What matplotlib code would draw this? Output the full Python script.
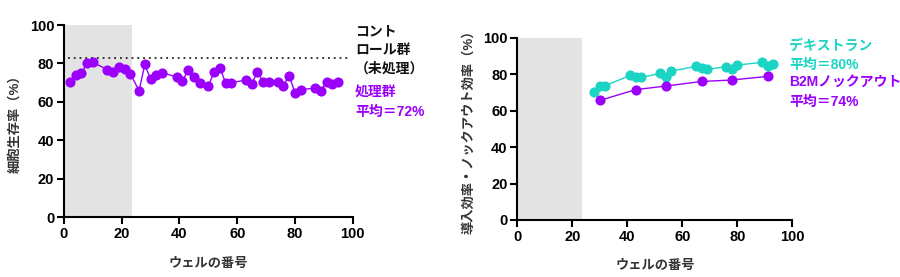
import matplotlib
matplotlib.use("Agg")
import matplotlib.pyplot as plt

plt.rcParams['font.family'] = ['Liberation Sans', 'Noto Sans CJK JP', 'DejaVu Sans']

# Left chart: cell viability per well
viab_wells = [2, 4, 6, 8, 10, 15, 17, 19, 21, 23, 26, 28, 30, 32, 34, 39, 41, 43, 45, 47,
              50, 52, 54, 56, 58, 63, 65, 67, 69, 71, 74, 76, 78, 80, 82, 87, 89, 91, 93, 95]
viab_vals = [70.2, 74.2, 75.0, 80.0, 80.6, 76.8, 75.6, 78.2, 77.3, 74.5, 65.9, 79.5, 71.8, 74.2, 75.2,
             73.0, 70.7, 76.6, 73.0, 70.0, 68.5, 75.4, 77.8, 69.8, 70.0, 71.4, 69.2, 75.6, 70.2, 70.4,
             70.4, 68.5, 73.7, 64.6, 66.4, 67.2, 65.7, 70.5, 69.2, 70.5]
control_level = 83.0

# Right chart: transduction / knockout efficiency
dex_wells = [28, 30, 32, 41, 43, 45, 52, 54, 56, 65, 67, 69, 76, 78, 80, 89, 91, 93]
dex_vals = [70.0, 73.5, 73.7, 79.3, 78.2, 78.2, 80.4, 78.2, 81.7, 84.3, 83.4, 82.6,
            84.1, 82.6, 85.0, 86.5, 84.6, 85.4]
ko_wells = [30, 43, 54, 67, 78, 91]
ko_vals = [65.6, 71.5, 73.5, 76.0, 76.8, 78.8]

ticks = [0, 20, 40, 60, 80, 100]
PURPLE = '#9A00FA'
CYAN = '#1CD4C4'
GRAY_SPAN = '#E3E3E3'

fig = plt.figure(figsize=(9, 2.77), dpi=100)
ax1 = fig.add_axes([0.0711, 0.2155, 0.3208, 0.6942])
ax2 = fig.add_axes([0.5748, 0.2058, 0.3056, 0.6580])

def style(ax, ylabel):
    ax.set_xlim(0, 100)
    ax.set_ylim(0, 100)
    ax.set_xticks(ticks)
    ax.set_yticks(ticks)
    ax.tick_params(direction='out', length=5, width=1.5, labelsize=10.5, pad=2)
    for lab in ax.get_xticklabels() + ax.get_yticklabels():
        lab.set_fontweight('bold')
    for s in ['top', 'right']:
        ax.spines[s].set_visible(False)
    for s in ['left', 'bottom']:
        ax.spines[s].set_linewidth(1.5)
    ax.axvspan(0, 23.5, color=GRAY_SPAN, lw=0, zorder=0)
    ax.set_xlabel('ウェルの番号', fontsize=9.5, fontweight='bold', color='#333333', labelpad=12)
    ax.set_ylabel(ylabel, fontsize=9.5, fontweight='bold', color='#333333', labelpad=6)

style(ax1, '細胞生存率（%）')
style(ax2, '導入効率・ノックアウト効率（%）')

ax1.plot([1.5, 98.5], [control_level, control_level], color='#222222', ls=(0, (1, 2.2)), lw=1.3)
ax1.plot(viab_wells, viab_vals, color=PURPLE, lw=1, marker='o', ms=7.3, mew=0, zorder=3, clip_on=False)

ax2.plot(dex_wells, dex_vals, color=CYAN, lw=1, marker='o', ms=7.3, mew=0, zorder=3)
ax2.plot(ko_wells, ko_vals, color=PURPLE, lw=1, marker='o', ms=7.3, mew=0, zorder=3)

tkw = dict(fontsize=10, fontweight='bold', ha='left', va='top', linespacing=1.45)
fig.text(355/900, 1 - 24/277, 'コント\nロール群\n（未処理）', color='#111111', **tkw)
fig.text(355/900, 1 - 86/277, '処理群\n平均＝72%', color=PURPLE, **tkw)
fig.text(789/900, 1 - 39/277, 'デキストラン\n平均＝80%', color=CYAN, **tkw)
fig.text(789/900, 1 - 76/277, 'B2Mノックアウト\n平均＝74%', color=PURPLE, **tkw)

fig.savefig('out.png', dpi=100)
